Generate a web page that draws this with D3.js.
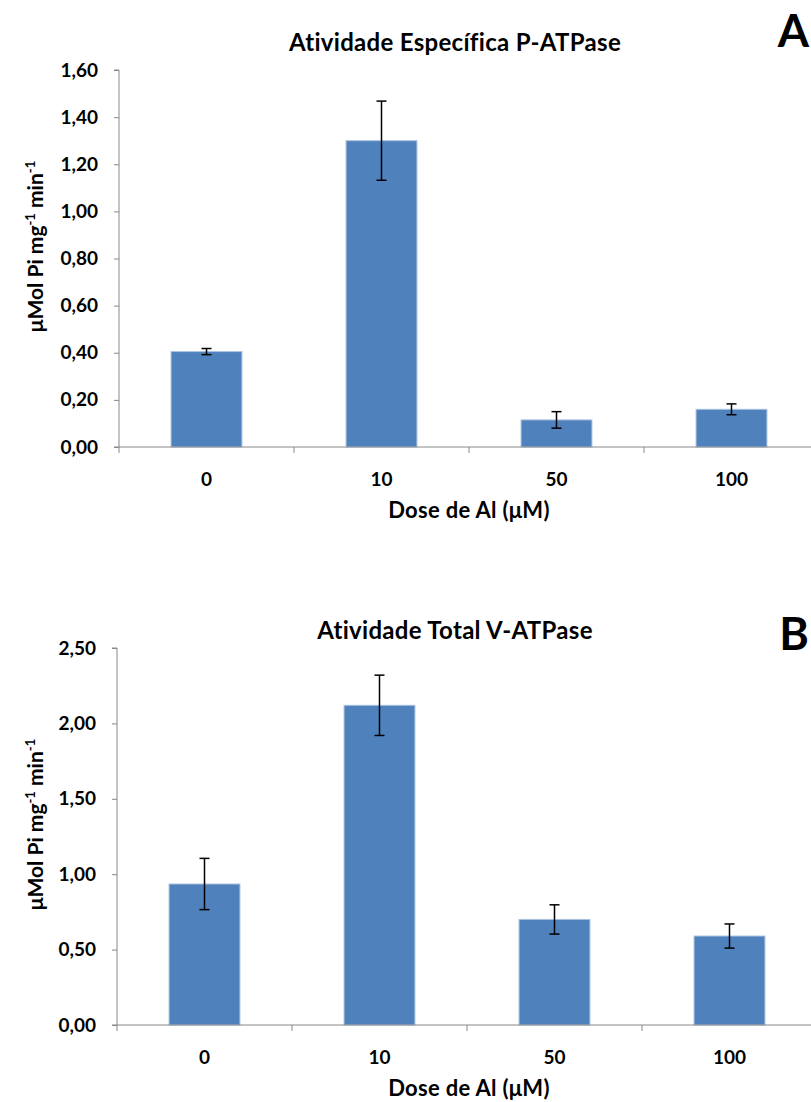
<!DOCTYPE html>
<html>
<head>
<meta charset="utf-8">
<script src="https://d3js.org/d3.v7.min.js"></script>
<style>
    body { margin: 0; background: #fff; }
    text { font-family: Lato, "Open Sans", sans-serif; font-weight: bold; fill: #000; }
    .axis path, .axis line { stroke: #888; }
</style>
</head>
<body>
<svg id="fig" width="811" height="1102"></svg>
<script>
    // data
    const doses = ["0", "10", "50", "100"];

    const pMeans = [0.405, 1.30, 0.115, 0.16];
    const pErrors = [0.013, 0.168, 0.035, 0.023];
    const pTicks = [0, 0.2, 0.4, 0.6, 0.8, 1.0, 1.2, 1.4, 1.6];

    const vMeans = [0.935, 2.12, 0.70, 0.59];
    const vErrors = [0.170, 0.200, 0.097, 0.080];
    const vTicks = [0, 0.5, 1.0, 1.5, 2.0, 2.5];

    const svg = d3.select("#fig");
    const fmt = d => d3.format(".2f")(d).replace(".", ",");

    function drawPanel(opts) {
        const left = opts.left, top = opts.top, bottom = opts.bottom;
        const bandW = 175;
        const g = svg.append("g");

        const x = d3.scaleBand().domain(doses).range([left, left + bandW * doses.length]);
        const y = d3.scaleLinear().domain([0, d3.max(opts.ticks)]).range([bottom, top]);

        // bars
        const barW = bandW * 0.405;
        g.selectAll("rect.bar").data(opts.means)
            .join("rect")
            .attr("class", "bar")
            .attr("x", (d, i) => x(doses[i]) + (bandW - barW) / 2)
            .attr("y", d => y(d))
            .attr("width", barW)
            .attr("height", d => y(0) - y(d))
            .attr("fill", "#4F81BD")
            .attr("stroke", "#a9c2e0")
            .attr("stroke-width", 1);

        // y axis
        const yAxis = d3.axisLeft(y).tickValues(opts.ticks).tickFormat(fmt).tickSize(5).tickPadding(16);
        const ya = g.append("g").attr("class", "axis")
            .attr("transform", `translate(${left},0)`)
            .call(yAxis);
        ya.select(".domain").attr("d", `M-5,${top}H0V${bottom}`);
        ya.selectAll("text").attr("font-size", 19);

        // x axis: ticks between categories
        g.append("line").attr("class", "axisline")
            .attr("x1", left - 5).attr("x2", 811)
            .attr("y1", bottom).attr("y2", bottom)
            .attr("stroke", "#888");
        const bounds = doses.map(d => x(d)).concat([x(doses[doses.length - 1]) + bandW]);
        g.selectAll("line.xtick").data(bounds)
            .join("line").attr("class", "xtick")
            .attr("x1", d => d).attr("x2", d => d)
            .attr("y1", bottom).attr("y2", bottom + 6)
            .attr("stroke", "#888");
        g.selectAll("text.xlab").data(doses)
            .join("text").attr("class", "xlab")
            .attr("x", d => x(d) + bandW / 2)
            .attr("y", bottom + 39)
            .attr("text-anchor", "middle")
            .attr("font-size", 19)
            .text(d => d);

        // error bars
        const eb = g.selectAll("g.err").data(opts.means).join("g").attr("class", "err");
        const cx = (i) => x(doses[i]) + bandW / 2;
        eb.append("line")
            .attr("x1", (d, i) => cx(i)).attr("x2", (d, i) => cx(i))
            .attr("y1", (d, i) => y(d + opts.errors[i])).attr("y2", (d, i) => y(d - opts.errors[i]));
        eb.append("line")
            .attr("x1", (d, i) => cx(i) - 5).attr("x2", (d, i) => cx(i) + 5)
            .attr("y1", (d, i) => y(d + opts.errors[i])).attr("y2", (d, i) => y(d + opts.errors[i]));
        eb.append("line")
            .attr("x1", (d, i) => cx(i) - 5).attr("x2", (d, i) => cx(i) + 5)
            .attr("y1", (d, i) => y(d - opts.errors[i])).attr("y2", (d, i) => y(d - opts.errors[i]));
        eb.selectAll("line").attr("stroke", "#000").attr("stroke-width", 1.5);

        // titles
        g.append("text")
            .attr("x", 455).attr("y", opts.titleY)
            .attr("text-anchor", "middle")
            .attr("font-size", 24)
            .attr("letter-spacing", 0.3)
            .text(opts.title);
        g.append("text")
            .attr("x", 809).attr("y", opts.letterY)
            .attr("text-anchor", "end")
            .attr("font-size", 45)
            .text(opts.letter);
        g.append("text")
            .attr("x", 469).attr("y", bottom + 71)
            .attr("text-anchor", "middle")
            .attr("font-size", 22)
            .attr("letter-spacing", 0.3)
            .text("Dose de Al (μM)");

        const yt = g.append("text")
            .attr("transform", `translate(43,${(top + bottom) / 2 - 12}) rotate(-90)`)
            .attr("text-anchor", "middle")
            .attr("font-size", 21);
        yt.append("tspan").text("μMol Pi mg");
        yt.append("tspan").attr("font-size", 13).attr("dy", -8).text("-1");
        yt.append("tspan").attr("dy", 8).text(" min");
        yt.append("tspan").attr("font-size", 13).attr("dy", -8).text("-1");
    }

    drawPanel({ left: 119, top: 70, bottom: 447, ticks: pTicks, means: pMeans, errors: pErrors,
        title: "Atividade Específica P-ATPase", letter: "A", titleY: 51, letterY: 47 });
    drawPanel({ left: 117, top: 648, bottom: 1025, ticks: vTicks, means: vMeans, errors: vErrors,
        title: "Atividade Total V-ATPase", letter: "B", titleY: 639, letterY: 650 });
</script>
</body>
</html>
